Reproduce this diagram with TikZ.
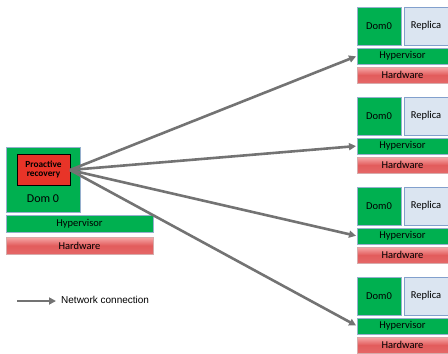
\documentclass[tikz,border=0pt]{standalone}
\usepackage{fontspec}
\setmainfont{Carlito}
\newfontfamily\arialf{Liberation Sans}
\usetikzlibrary{arrows.meta}
\definecolor{vmgreen}{RGB}{0,176,80}
\definecolor{vmborder}{RGB}{150,175,205}
\definecolor{repfill}{RGB}{219,229,241}
\definecolor{repborder}{RGB}{130,160,205}
\definecolor{prored}{RGB}{232,52,40}
\definecolor{hwtop}{RGB}{246,170,170}
\definecolor{hwmid}{RGB}{226,92,92}
\definecolor{hwborder}{RGB}{215,170,170}
\definecolor{netgray}{RGB}{115,115,115}
\tikzset{
  box/.style={anchor=north west, inner sep=0pt, outer sep=0pt, font=\fontsize{10.5}{11}\selectfont},
  greenbox/.style={box, fill=vmgreen, draw=vmborder, line width=0.6pt},
  repbox/.style={box, fill=repfill, draw=repborder, line width=0.8pt},
  hwbox/.style={box, top color=hwtop, bottom color=hwmid!85!hwtop, middle color=hwmid, draw=hwborder, line width=0.6pt},
  probox/.style={box, fill=prored, draw=black, line width=0.8pt, align=center, text=black, font=\bfseries\fontsize{9.3}{9.5}\selectfont},
  netarrow/.style={draw=netgray, line width=2.6pt, -{Triangle[length=7pt,width=7pt]}, shorten >=1pt}
}
\begin{document}
\begin{tikzpicture}[x=1pt,y=-1pt]
\useasboundingbox (0,0) rectangle (448,354);
\clip (0,0) rectangle (448,354);
% left machine
\node[greenbox, minimum width=74pt, minimum height=65pt] (ldom) at (6,147) {};
\node[probox, minimum width=53pt, minimum height=31pt] (pro) at (17,154) {Proactive\\recovery};
\node[font=\fontsize{12}{13}\selectfont, inner sep=0pt] (ldomlabel) at (43,199) {Dom 0};
\node[greenbox, minimum width=147pt, minimum height=17pt] (lhyp) at (6,215) {Hypervisor};
\node[hwbox, minimum width=147pt, minimum height=17pt] (lhw) at (6,237) {Hardware};
% right machines
\foreach \i/\t in {1/7,2/97,3/187,4/277}{
  \node[greenbox, minimum width=44pt, minimum height=38pt] (dom\i) at (357,\t) {Dom0};
  \node[repbox, minimum width=50pt, minimum height=38pt] (rep\i) at (404,\t) {\hspace*{-6pt}Replica};
  \node[greenbox, minimum width=96pt, minimum height=16pt] (hyp\i) at (357,\t+41) {\hspace*{-5pt}Hypervisor};
  \node[hwbox, minimum width=96pt, minimum height=16pt] (hw\i) at (357,\t+60) {\hspace*{-5pt}Hardware};
}
% connections
\coordinate (src) at (70,170);
\draw[netarrow] (src) -- (hyp1.west);
\draw[netarrow] (src) -- (hyp2.west);
\draw[netarrow] (src) -- (hyp3.west);
\draw[netarrow] (src) -- (hyp4.west);
% legend
\coordinate (la) at (17,301);
\coordinate (lb) at (57,301);
\draw[netarrow] (la) -- (lb);
\node[anchor=west, inner sep=0pt, font=\arialf\fontsize{10}{11}\selectfont] (legend) at (61,300) {Network connection};
\end{tikzpicture}
\end{document}
